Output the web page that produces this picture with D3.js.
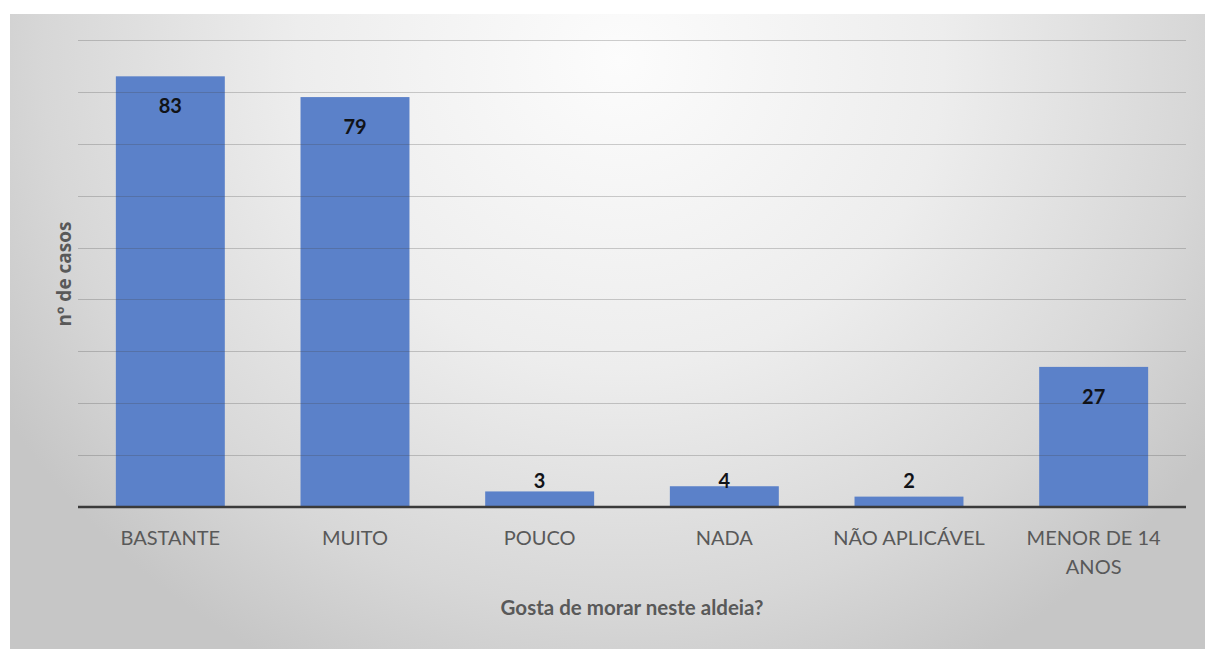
<!DOCTYPE html>
<html>
<head>
<meta charset="utf-8">
<script src="https://cdn.jsdelivr.net/npm/d3@7"></script>
<style>
  html, body { margin: 0; padding: 0; background: #ffffff; }
  svg { display: block; }
</style>
</head>
<body>
<svg id="chart" width="1205" height="649"></svg>
<script>
// Survey answers: "Gosta de morar neste aldeia?"
const categories = ["BASTANTE", "MUITO", "POUCO", "NADA", "NÃO APLICÁVEL", "MENOR DE 14 ANOS"];
const categoryLines = [["BASTANTE"], ["MUITO"], ["POUCO"], ["NADA"], ["NÃO APLICÁVEL"], ["MENOR DE 14", "ANOS"]];
const values = [83, 79, 3, 4, 2, 27];
const gridTicks = [0, 10, 20, 30, 40, 50, 60, 70, 80, 90];
const xTitle = "Gosta de morar neste aldeia?";
const yTitle = "nº de casos";

const svg = d3.select("#chart");
const W = 1205, H = 649;
const plot = { left: 78, right: 1186, top: 40, bottom: 507 };
const font = "Lato, 'Open Sans', sans-serif";

// Soft radial background panel
const defs = svg.append("defs");
const grad = defs.append("radialGradient")
  .attr("id", "bg")
  .attr("gradientUnits", "userSpaceOnUse")
  .attr("cx", 620).attr("cy", 60)
  .attr("r", 720)
  .attr("gradientTransform", "translate(620,60) scale(1,0.95) translate(-620,-60)");
grad.append("stop").attr("offset", "0").attr("stop-color", "#fcfcfc");
grad.append("stop").attr("offset", "0.45").attr("stop-color", "#ededed");
grad.append("stop").attr("offset", "0.8").attr("stop-color", "#d7d7d7");
grad.append("stop").attr("offset", "1").attr("stop-color", "#c6c6c6");

svg.append("rect")
  .attr("x", 10).attr("y", 14)
  .attr("width", W - 10).attr("height", H - 14)
  .attr("fill", "url(#bg)");

const x = d3.scaleBand()
  .domain(categories)
  .range([plot.left, plot.right])
  .paddingInner(0.41)
  .paddingOuter(0.205);

const y = d3.scaleLinear()
  .domain([0, 90])
  .range([plot.bottom, plot.top]);

// Bars
svg.append("g")
  .selectAll("rect")
  .data(values)
  .join("rect")
  .attr("x", (d, i) => x(categories[i]))
  .attr("y", d => y(d))
  .attr("width", x.bandwidth())
  .attr("height", d => y(0) - y(d))
  .attr("fill", "#5b81c9");

// Horizontal gridlines (drawn over the bars, semi-transparent)
svg.append("g")
  .selectAll("line")
  .data(gridTicks.filter(t => t > 0))
  .join("line")
  .attr("x1", plot.left).attr("x2", plot.right)
  .attr("y1", d => Math.round(y(d)) + 0.5)
  .attr("y2", d => Math.round(y(d)) + 0.5)
  .attr("stroke", "rgba(70,70,70,0.26)")
  .attr("stroke-width", 1.2);

// Category axis line
svg.append("line")
  .attr("x1", plot.left).attr("x2", plot.right)
  .attr("y1", y(0)).attr("y2", y(0))
  .attr("stroke", "#3a3a3a")
  .attr("stroke-width", 2.6);

// Value labels: inside the top of the bar, kept above the axis for short bars
svg.append("g")
  .selectAll("text")
  .data(values)
  .join("text")
  .attr("x", (d, i) => x(categories[i]) + x.bandwidth() / 2)
  .attr("y", d => Math.min(y(d) + 30, y(0) - 26))
  .attr("dy", "0.35em")
  .attr("text-anchor", "middle")
  .attr("font-family", font)
  .attr("font-weight", "bold")
  .attr("font-size", 20)
  .attr("fill", "#111318")
  .text(d => d);

// Category labels
const catG = svg.append("g");
categoryLines.forEach((lines, i) => {
  const t = catG.append("text")
    .attr("x", x(categories[i]) + x.bandwidth() / 2)
    .attr("y", 538)
    .attr("text-anchor", "middle")
    .attr("font-family", font)
    .attr("font-size", 20)
    .attr("fill", "#595959");
  lines.forEach((ln, j) => {
    t.append("tspan")
      .attr("x", x(categories[i]) + x.bandwidth() / 2)
      .attr("y", 538 + j * 29)
      .attr("dy", "0.35em")
      .text(ln);
  });
});

// Axis titles
svg.append("text")
  .attr("x", (plot.left + plot.right) / 2)
  .attr("y", 608)
  .attr("dy", "0.35em")
  .attr("text-anchor", "middle")
  .attr("font-family", font)
  .attr("font-weight", "bold")
  .attr("font-size", 20.5)
  .attr("fill", "#595959")
  .text(xTitle);

svg.append("text")
  .attr("transform", "translate(64,274) rotate(-90)")
  .attr("dy", "0.35em")
  .attr("text-anchor", "middle")
  .attr("font-family", "'Open Sans', Lato, sans-serif")
  .attr("font-weight", "bold")
  .attr("font-size", 19)
  .attr("fill", "#595959")
  .text(yTitle);
</script>
</body>
</html>
